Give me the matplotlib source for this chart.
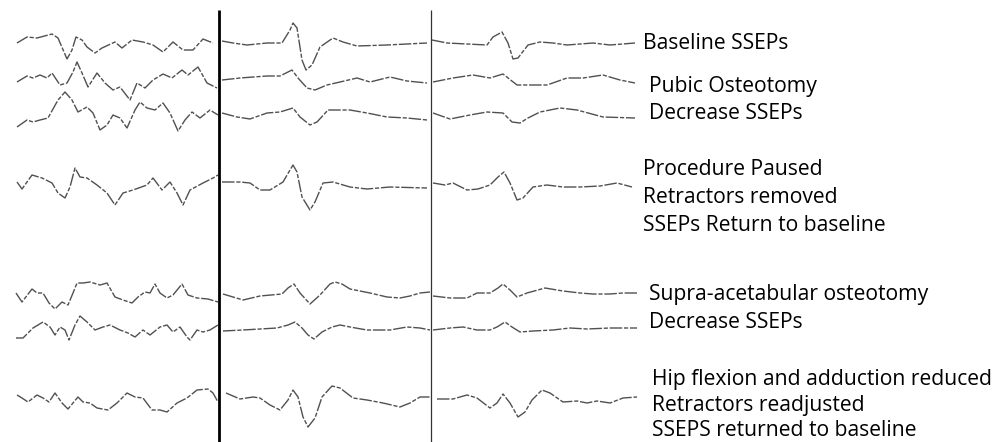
import numpy as np
import matplotlib
matplotlib.use("Agg")
import matplotlib.pyplot as plt

nan = np.nan

# traces in pixel units (x right, y down);
# nan splits a trace into its three recording windows
base_x = [17, 27, 37, 52, 58, 67, 72, 76, 82, 87, 95, 102, 115, 122, 132, 143, 153, 163, 173, 183, 193, 203, 213,
          nan,
          222, 233, 247, 267, 282, 290, 293, 297, 302, 306, 312, 320, 333, 343, 357, 387, 427,
          nan,
          432, 447, 487, 493, 502, 508, 513, 518, 528, 540, 553, 567, 593, 610, 635]
base_y = [43, 37, 38, 34, 38, 59, 50, 37, 40, 47, 53, 48, 42, 48, 40, 42, 45, 52, 42, 50, 50, 39, 43,
          nan,
          41, 43, 45, 43, 43, 30, 23, 28, 60, 70, 65, 47, 38, 42, 46, 45, 43,
          nan,
          40, 43, 45, 37, 32, 43, 59, 58, 45, 42, 43, 45, 43, 45, 43]

pubic_x = [17, 27, 33, 40, 47, 52, 60, 67, 73, 77, 82, 88, 97, 105, 113, 120, 130, 137, 145, 153, 163, 172, 182, 188,
           198, 207, 217,
           nan,
           222, 240, 267, 280, 292, 298, 307, 315, 327, 340, 357, 370, 390, 407, 427,
           nan,
           433, 453, 473, 490, 503, 517, 547, 567, 583, 603, 620, 635]
pubic_y = [82, 76, 78, 75, 78, 73, 85, 83, 72, 62, 73, 87, 73, 83, 90, 87, 100, 83, 88, 80, 74, 78, 70, 75,
           67, 83, 88,
           nan,
           80, 78, 76, 76, 70, 78, 88, 90, 85, 82, 78, 82, 77, 81, 83,
           nan,
           82, 78, 75, 78, 74, 85, 85, 78, 78, 75, 80, 83]

drop1_x = [17, 27, 33, 40, 48, 58, 65, 72, 78, 87, 93, 100, 107, 113, 120, 127, 135, 140, 147, 155, 163, 170, 178,
           185, 192, 200, 210, 218,
           nan,
           222, 237, 250, 267, 280, 293, 300, 310, 317, 328, 350, 367, 387, 407, 427,
           nan,
           433, 450, 470, 487, 503, 512, 520, 528, 540, 560, 577, 603, 635]
drop1_y = [127, 120, 122, 120, 118, 100, 92, 100, 112, 107, 113, 130, 125, 115, 118, 128, 110, 102, 108, 110, 103,
           113, 131, 120, 112, 118, 110, 115,
           nan,
           113, 117, 119, 113, 112, 108, 117, 125, 122, 110, 110, 113, 117, 118, 120,
           nan,
           113, 119, 115, 112, 113, 122, 123, 118, 112, 108, 110, 117, 118]

pause_x = [17, 22, 32, 42, 52, 58, 65, 70, 75, 80, 87, 97, 107, 115, 123, 133, 147, 153, 162, 170, 177, 183, 190,
           203, 213, 218,
           nan,
           222, 240, 250, 260, 270, 283, 290, 293, 297, 302, 310, 315, 323, 333, 350, 367, 390, 427,
           nan,
           433, 445, 453, 467, 478, 490, 498, 504, 510, 517, 523, 533, 547, 563, 580, 600, 617, 632]
pause_y = [182, 189, 175, 178, 183, 193, 198, 187, 168, 177, 178, 185, 193, 205, 193, 190, 185, 178, 190, 182, 193,
           205, 190, 183, 178, 175,
           nan,
           182, 182, 183, 190, 190, 182, 170, 165, 172, 197, 210, 202, 183, 182, 187, 189, 187, 188,
           nan,
           183, 185, 183, 190, 189, 185, 177, 172, 183, 200, 198, 187, 185, 187, 187, 186, 183, 187]

supra_x = [16, 22, 32, 37, 43, 49, 55, 62, 68, 73, 77, 83, 90, 100, 107, 115, 123, 132, 138, 145, 150, 155, 160,
           167, 173, 182, 188, 197, 208, 218,
           nan,
           223, 243, 260, 282, 288, 294, 300, 310, 320, 330, 335, 342, 350, 370, 387, 400, 410, 420, 430,
           nan,
           433, 450, 467, 477, 490, 498, 503, 510, 517, 527, 545, 563, 580, 593, 610, 623, 637]
supra_y = [293, 302, 289, 293, 293, 303, 309, 302, 305, 293, 283, 283, 282, 285, 283, 297, 300, 303, 297, 292, 293,
           284, 293, 298, 295, 284, 295, 298, 299, 302,
           nan,
           294, 300, 296, 294, 288, 284, 293, 304, 295, 284, 282, 284, 289, 293, 297, 298, 296, 293, 292,
           nan,
           296, 298, 298, 293, 293, 288, 284, 290, 297, 293, 288, 291, 293, 294, 294, 293, 293]

drop2_x = [16, 23, 33, 43, 50, 55, 60, 65, 69, 75, 80, 87, 95, 103, 110, 120, 128, 135, 143, 150, 160, 167, 173,
           180, 187, 190, 197, 203, 210, 218,
           nan,
           223, 243, 260, 277, 288, 295, 302, 308, 314, 322, 332, 340, 350, 367, 377, 390, 407, 420, 430,
           nan,
           433, 450, 463, 477, 490, 497, 505, 512, 520, 533, 553, 570, 587, 610, 637]
drop2_y = [338, 338, 328, 322, 327, 335, 327, 330, 340, 325, 316, 322, 330, 327, 325, 330, 333, 337, 330, 335, 327,
           325, 332, 327, 337, 340, 330, 332, 330, 325,
           nan,
           331, 330, 329, 328, 325, 322, 328, 335, 339, 332, 327, 325, 327, 330, 330, 330, 327, 328, 330,
           nan,
           330, 328, 327, 330, 330, 327, 322, 327, 332, 331, 330, 328, 329, 328, 328]

hip_x = [17, 22, 28, 37, 43, 49, 55, 62, 68, 78, 83, 90, 97, 108, 117, 127, 135, 143, 152, 160, 167, 177, 187, 197,
         208, 213, 218,
         nan,
         226, 240, 253, 260, 270, 280, 288, 293, 298, 303, 308, 315, 322, 332, 340, 353, 367, 383, 400, 410, 420, 430,
         nan,
         437, 453, 467, 477, 490, 497, 503, 510, 518, 525, 532, 542, 550, 563, 577, 587, 597, 610, 623, 637]
hip_y = [395, 398, 402, 395, 398, 402, 393, 403, 409, 397, 402, 403, 408, 410, 403, 393, 397, 398, 410, 410, 412,
         403, 398, 390, 389, 393, 402,
         nan,
         393, 399, 397, 398, 405, 410, 400, 390, 397, 417, 427, 418, 397, 386, 388, 398, 400, 403, 407, 403, 397, 397,
         nan,
         399, 399, 395, 398, 408, 403, 394, 403, 417, 412, 400, 390, 393, 402, 401, 403, 401, 403, 398, 397]

traces = [(base_x, base_y), (pubic_x, pubic_y), (drop1_x, drop1_y), (pause_x, pause_y),
          (supra_x, supra_y), (drop2_x, drop2_y), (hip_x, hip_y)]

# annotation text: (x, baseline y, string)
label_x = [643, 649, 649, 643, 643, 643, 649, 649, 652, 652, 652]
label_y = [49, 92, 119, 175, 203, 231, 300, 328, 385, 411, 436]
label_text = ["Baseline SSEPs", "Pubic Osteotomy", "Decrease SSEPs",
              "Procedure Paused", "Retractors removed", "SSEPs Return to baseline",
              "Supra-acetabular osteotomy", "Decrease SSEPs",
              "Hip flexion and adduction reduced", "Retractors readjusted",
              "SSEPS returned to baseline"]

W, H = 1007, 442
fig = plt.figure(figsize=(W / 100, H / 100), dpi=100)
ax = fig.add_axes([0, 0, 1, 1])
ax.set_xlim(0, W)
ax.set_ylim(H, 0)
ax.axis("off")

for xs, ys in traces:
    ax.plot(xs, ys, color="#505050", lw=1.0, dashes=(9, 1.3, 3, 1.3))

# stimulus / window markers
ax.vlines(219, 10, H, color="black", lw=2.0)
ax.vlines(431, 10, H, color="#333333", lw=0.9)

for x, y, s in zip(label_x, label_y, label_text):
    ax.text(x, y, s, fontsize=15.2, family="Open Sans", va="baseline", ha="left", color="black")

fig.savefig("out.png", dpi=100)
